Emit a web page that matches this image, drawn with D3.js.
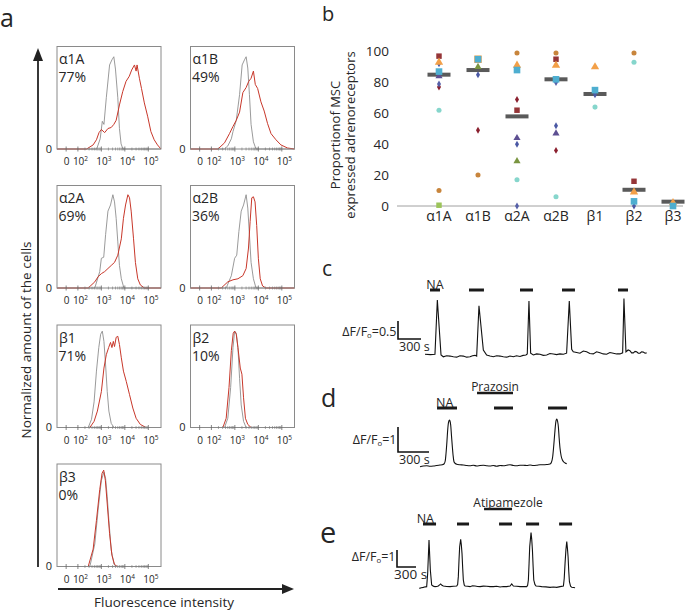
<!DOCTYPE html>
<html><head><meta charset="utf-8">
<script src="https://cdn.jsdelivr.net/npm/d3@7"></script>
<style>
body{margin:0;background:#fff}
svg{display:block}
text{font-family:"Open Sans",sans-serif;fill:#262626}
</style>
</head><body>
<svg id="fig" width="685" height="611"></svg>
<script>
// ---------------- DATA ----------------
// Panel a: flow cytometry histograms, [log10 intensity, normalized count]
const histLabels = ["α1A","α1B","α2A","α2B","β1","β2","β3"];
const histPercents = ["77%","49%","69%","36%","71%","10%","0%"];
const histTickValues = [1.5, 2, 3, 4, 5];
const histTickLabels = [["0",""],["10","2"],["10","3"],["10","4"],["10","5"]];

const grayA1A = [[2.80,0],[2.95,0.1],[3.04,0.27],[3.11,0.24],[3.21,0.5],[3.35,0.82],[3.45,0.87],[3.53,0.9],[3.60,0.78],[3.70,0.5],[3.77,0.2],[3.84,0.05],[3.92,0]];
const redA1A = [[2.37,0],[2.65,0.04],[2.79,0.09],[2.90,0.16],[3.00,0.19],[3.14,0.16],[3.28,0.2],[3.42,0.21],[3.53,0.24],[3.63,0.28],[3.77,0.43],[3.91,0.56],[4.05,0.66],[4.19,0.71],[4.29,0.77],[4.41,0.82],[4.48,0.76],[4.52,0.82],[4.62,0.69],[4.71,0.59],[4.83,0.45],[4.97,0.32],[5.11,0.17],[5.25,0.09],[5.39,0.04],[5.50,0.01]];
const grayA1B = [[2.55,0],[2.70,0.03],[2.85,0.1],[2.92,0.17],[3.06,0.28],[3.20,0.53],[3.31,0.82],[3.41,0.87],[3.48,0.9],[3.55,0.79],[3.62,0.53],[3.69,0.24],[3.79,0.07],[3.90,0]];
const redA1B = [[2.28,0],[2.56,0.06],[2.77,0.15],[2.92,0.22],[3.06,0.28],[3.20,0.36],[3.34,0.55],[3.48,0.6],[3.59,0.66],[3.69,0.69],[3.79,0.76],[3.87,0.63],[3.97,0.59],[4.11,0.46],[4.25,0.37],[4.39,0.25],[4.54,0.15],[4.75,0.09],[4.96,0.04],[5.24,0.01]];
const grayA2A = [[2.72,0],[2.93,0.16],[3.0,0.29],[3.10,0.3],[3.18,0.52],[3.28,0.75],[3.39,0.81],[3.49,0.91],[3.56,0.84],[3.63,0.68],[3.70,0.45],[3.77,0.22],[3.85,0.09],[3.96,0]];
const redA2A = [[2.44,0],[2.72,0.06],[2.86,0.11],[3.0,0.14],[3.14,0.16],[3.28,0.19],[3.42,0.22],[3.56,0.25],[3.70,0.32],[3.85,0.48],[3.94,0.68],[4.03,0.81],[4.13,0.91],[4.20,0.88],[4.27,0.75],[4.37,0.48],[4.45,0.25],[4.55,0.09],[4.66,0.03],[4.83,0]];
const grayA2B = [[2.63,0],[2.85,0.12],[2.99,0.29],[3.08,0.32],[3.17,0.55],[3.27,0.75],[3.37,0.81],[3.48,0.91],[3.55,0.78],[3.62,0.52],[3.69,0.25],[3.79,0.09],[3.90,0]];
const redA2B = [[2.42,0],[2.70,0.06],[2.92,0.08],[3.13,0.09],[3.34,0.12],[3.48,0.19],[3.58,0.39],[3.65,0.65],[3.72,0.88],[3.79,0.89],[3.86,0.84],[3.93,0.61],[4.0,0.29],[4.08,0.09],[4.18,0.02],[4.32,0]];
const grayB1 = [[2.44,0],[2.58,0.08],[2.69,0.25],[2.79,0.55],[2.89,0.78],[2.97,0.91],[3.04,0.94],[3.11,0.84],[3.18,0.61],[3.25,0.35],[3.32,0.16],[3.42,0.04],[3.54,0]];
const redB1 = [[2.51,0],[2.69,0.06],[2.83,0.16],[3.0,0.35],[3.11,0.58],[3.21,0.71],[3.31,0.78],[3.39,0.83],[3.45,0.78],[3.51,0.84],[3.56,0.79],[3.63,0.88],[3.70,0.89],[3.77,0.81],[3.85,0.68],[3.94,0.55],[4.06,0.45],[4.20,0.32],[4.34,0.19],[4.48,0.09],[4.66,0.03],[4.90,0]];
const grayB2 = [[2.56,0],[2.70,0.09],[2.82,0.39],[2.92,0.78],[2.99,0.94],[3.06,0.92],[3.13,0.78],[3.20,0.48],[3.27,0.22],[3.37,0.06],[3.48,0]];
const redB2 = [[2.49,0],[2.63,0.09],[2.75,0.39],[2.85,0.75],[2.93,0.92],[2.99,0.94],[3.06,0.91],[3.13,0.78],[3.23,0.58],[3.30,0.52],[3.37,0.29],[3.45,0.09],[3.55,0.03],[3.69,0]];
const grayB3 = [[2.51,0],[2.72,0.22],[2.86,0.55],[3.0,0.84],[3.11,0.92],[3.18,0.86],[3.25,0.68],[3.32,0.45],[3.42,0.16],[3.54,0.02],[3.63,0]];
const redB3 = [[2.44,0],[2.65,0.17],[2.79,0.45],[2.93,0.75],[3.03,0.91],[3.10,0.94],[3.17,0.84],[3.25,0.61],[3.35,0.32],[3.45,0.11],[3.56,0.02],[3.68,0]];

// Panel b: proportion of MSC expressing each receptor (one array per donor marker)
const receptorCats = ["α1A","α1B","α2A","α2B","β1","β2","β3"];
const bTicks = [0,20,40,60,80,100];
const medians = [85, 88, 58, 82, 72.5, 10.5, 2.8];
const sOrangeCircle  = [10, 20, 99, 99, null, 99, null];
const sCyanCircle    = [62, null, 17, 6, 64, 93, null];
const sGreenSquare   = [0.5, null, null, null, null, null, null];
const sGreenTriangle = [null, 90, 29, null, null, null, null];
const sRedDiamond    = [77, 49, 69, 36, null, null, null];
const sBlueDiamond2  = [79, null, 0, 80, null, null, null];
const sPurpleTri     = [84, null, 44, 47, null, null, null];
const sBlueDiamond   = [92, 85, 40, 52, 72, 0, null];
const sRedSquare     = [97, null, 62, 95, null, 16, null];
const sOrangeTri     = [93, null, 91, 91, 90, 9, 2];
const sOrangeSquare  = [null, 95, null, null, null, null, null];
const sLightBlueSq   = [87, 95, 88, 82, 75, 3, 0];

// Panels c-e: calcium traces [time s, ΔF/F0] and stimulus bars [start s, end s]
const traceC = [[0,0.02],[70,0.01],[130,0.02],[161,1.53],[209,0],[239,-0.05],[282,-0.02],[326,-0.03],[370,-0.05],[413,-0.06],[456,-0.02],[500,-0.03],[543,-0.06],[587,-0.05],[620,-0.02],[652,-0.01],[674,-0.03],[704,1.37],[761,0.14],[804,0],[848,-0.03],[891,-0.05],[935,-0.02],[978,-0.03],[1022,-0.05],[1065,-0.06],[1108,-0.03],[1152,-0.05],[1195,-0.02],[1239,-0.04],[1280,-0.01],[1317,0],[1334,0.03],[1356,1.5],[1378,0.05],[1413,0],[1456,0.03],[1500,0.02],[1543,-0.01],[1587,0],[1630,0.04],[1674,0.03],[1717,0.01],[1760,0.03],[1805,0.02],[1847,0.05],[1882,1.5],[1913,0.16],[1934,0.09],[1978,0.07],[2021,0.05],[2065,0.11],[2108,0.09],[2150,0.04],[2195,0.03],[2238,0.09],[2282,0.06],[2325,0.03],[2369,0.02],[2412,0.07],[2456,0.05],[2500,0.03],[2543,0.03],[2578,0.06],[2595,1.57],[2621,0.09],[2650,0.14],[2673,0.12],[2695,0.06],[2717,0.06],[2740,0.1],[2760,0.09],[2782,0.05],[2804,0.05],[2825,0.09],[2847,0.08],[2870,0.05],[2891,0.06]];
const stimC = [[65,196],[574,769],[1239,1409],[1787,1956],[2517,2648]];
const traceD = [[0,-0.03],[32,0],[65,0.01],[97,-0.01],[129,0],[160,0.02],[194,0.04],[215,0.05],[232,0.08],[244,0.2],[252,0.51],[261,1.0],[268,1.44],[276,1.75],[284,1.84],[290,1.8],[297,1.64],[305,1.2],[313,0.77],[321,0.4],[329,0.17],[342,0.1],[355,0.07],[387,0.05],[419,0.04],[452,0.02],[484,0.01],[516,0.03],[549,0],[581,0.02],[613,0.03],[646,0.01],[678,0],[710,0.02],[742,-0.01],[775,0.02],[807,0.01],[839,0.03],[871,0.05],[904,0.02],[936,0.01],[968,0.03],[1000,0.03],[1033,0.02],[1065,0.04],[1097,0.02],[1129,0.03],[1162,0.05],[1194,0.05],[1226,0.06],[1258,0.08],[1272,0.15],[1284,0.37],[1294,0.8],[1304,1.31],[1314,1.75],[1323,1.88],[1331,1.8],[1339,1.57],[1347,1.1],[1355,0.71],[1366,0.4],[1378,0.24],[1391,0.16],[1404,0.12],[1420,0.09]];
const stimD = [[165,358],[716,900],[1239,1423]];
const prazosinBar = [552,900];
const traceE = [[5,-0.08],[37,-0.04],[68,-0.02],[100,0.01],[121,0.02],[137,0.8],[158,2.76],[179,1.0],[200,0.12],[226,0.05],[253,0.02],[280,0.03],[305,0.06],[325,0.12],[342,0.18],[362,0.1],[384,0.06],[437,0.03],[490,0.02],[543,0.04],[595,0.06],[610,0.15],[621,0.61],[632,1.6],[642,2.37],[658,2.8],[668,2.5],[679,1.98],[690,1.1],[700,0.41],[714,0.12],[727,0.06],[766,0.04],[806,0.02],[845,0.07],[885,0.06],[925,0.03],[964,0.02],[1017,0.05],[1069,0.04],[1121,0.02],[1174,0.02],[1227,0.04],[1280,0],[1332,0.03],[1385,0.02],[1438,0.06],[1464,0.18],[1490,0.06],[1543,0.04],[1596,0.02],[1650,0.03],[1701,0.02],[1715,0.1],[1727,0.41],[1738,1.4],[1748,2.37],[1769,3.2],[1780,2.8],[1791,2.18],[1802,1.2],[1812,0.41],[1830,0.15],[1848,0.06],[1893,0.04],[1938,0.02],[2003,0.01],[2069,-0.02],[2122,0],[2175,-0.02],[2228,0.02],[2280,0.06],[2293,0.5],[2306,1.39],[2320,2.2],[2333,2.67],[2343,2.3],[2354,1.78],[2365,0.9],[2375,0.31],[2393,0.05],[2412,-0.02],[2438,-0.03],[2464,-0.04]];
const stimE = [[63,269],[600,790],[1264,1469],[1690,1896],[2212,2417]];
const atipamezoleBar = [1027,1469];

// ---------------- DRAWING ----------------
const svg = d3.select("#fig");
const INK = "#262626";

// ===== Panel a =====
svg.append("text").attr("x",0).attr("y",27).attr("font-size",25).text("a");

const hW = 104, hH = 102.5;
const hx = d3.scaleLinear().domain([1.11, 5.54]).range([0, hW]);
const hy = d3.scaleLinear().domain([0, 1]).range([hH, 0]);
const boxLeft = [57, 190.5];
const rowTop = [46.5, 185.5, 325, 464];
const grays = [grayA1A, grayA1B, grayA2A, grayA2B, grayB1, grayB2, grayB3];
const reds  = [redA1A, redA1B, redA2A, redA2B, redB1, redB2, redB3];
const hLine = d3.line().x(d => hx(d[0])).y(d => hy(d[1]));
const full = c => [[hx.domain()[0],0], ...c, [hx.domain()[1],0]];

histLabels.forEach((lab, i) => {
  const g = svg.append("g")
    .attr("transform", `translate(${boxLeft[i % 2]},${rowTop[Math.floor(i / 2)]})`);
  g.append("path").attr("d", hLine(full(grays[i])))
    .attr("fill","none").attr("stroke","#8e8e8e").attr("stroke-width",0.9);
  g.append("path").attr("d", hLine(full(reds[i])))
    .attr("fill","none").attr("stroke","#c8372a").attr("stroke-width",1);
  g.append("rect").attr("width",hW).attr("height",hH)
    .attr("fill","none").attr("stroke","#8a8a8a").attr("stroke-width",1);
  // minor ticks
  const minor = [];
  for (let e = 2; e <= 4; e++) for (let k = 2; k <= 9; k++) minor.push(e + Math.log10(k));
  g.selectAll("line.mn").data(minor).join("line")
    .attr("x1", d => hx(d)).attr("x2", d => hx(d))
    .attr("y1", hH - 1.5).attr("y2", hH + 1.5)
    .attr("stroke","#777").attr("stroke-width",0.6);
  g.selectAll("line.mj").data(histTickValues).join("line")
    .attr("x1", d => hx(d)).attr("x2", d => hx(d))
    .attr("y1", hH - 2.5).attr("y2", hH + 2.5)
    .attr("stroke","#666").attr("stroke-width",0.8);
  const ax = g.append("g").attr("transform", `translate(0,${hH})`)
    .call(d3.axisBottom(hx).tickValues(histTickValues).tickSize(0).tickPadding(9));
  ax.select(".domain").remove();
  ax.selectAll("text").each(function(d, j) {
    const t = d3.select(this).text("").attr("font-size",10)
      .attr("font-family","'Open Sans',sans-serif").attr("fill",INK)
      .attr("text-anchor", j === 0 ? "middle" : "start")
      .attr("dx", j === 0 ? 0 : -5.5);
    t.append("tspan").text(histTickLabels[j][0]);
    if (histTickLabels[j][1]) t.append("tspan").attr("font-size",6.5).attr("dy",-4).text(histTickLabels[j][1]);
  });
  g.append("text").attr("x",-5).attr("y",hy(0)).attr("dy","0.35em")
    .attr("text-anchor","end").attr("font-size",11).text("0");
  g.append("text").attr("x",2).attr("y",17.5).attr("font-size",14).text(lab);
  g.append("text").attr("x",1.5).attr("y",35.5).attr("font-size",14).text(histPercents[i]);
});

// axes arrows
svg.append("line").attr("x1",38).attr("x2",38).attr("y1",567).attr("y2",58)
  .attr("stroke","#222").attr("stroke-width",1.8);
svg.append("path").attr("d","M33,61 L38,48 L43,61 Z").attr("fill","#222");
svg.append("line").attr("x1",58).attr("x2",284).attr("y1",589).attr("y2",589)
  .attr("stroke","#222").attr("stroke-width",1.8);
svg.append("path").attr("d","M282,584 L294,589 L282,594 Z").attr("fill","#222");
svg.append("text").attr("transform","translate(31,340) rotate(-90)")
  .attr("text-anchor","middle").attr("font-size",13.5).text("Normalized amount of the cells");
svg.append("text").attr("x",164).attr("y",607).attr("text-anchor","middle")
  .attr("font-size",13.5).text("Fluorescence intensity");

// ===== Panel b =====
svg.append("text").attr("x",322).attr("y",21).attr("font-size",20).text("b");
const yB = d3.scaleLinear().domain([0,100]).range([206,51.5]);
const xB = d3.scaleBand().domain(receptorCats).range([419.5,692.5]);

const yAx = svg.append("g").attr("transform","translate(397,0)")
  .call(d3.axisLeft(yB).tickValues(bTicks).tickSize(0).tickPadding(8));
yAx.select(".domain").remove();
yAx.selectAll("text").attr("font-size",13.5).attr("font-family","'Open Sans',sans-serif").attr("fill",INK);

svg.append("line").attr("x1",397).attr("x2",683).attr("y1",yB(0)).attr("y2",yB(0))
  .attr("stroke","#a0a0a0").attr("stroke-width",1);
const xAx = svg.append("g").attr("transform",`translate(0,${yB(0)})`)
  .call(d3.axisBottom(xB).tickSize(0).tickPadding(5));
xAx.select(".domain").remove();
xAx.selectAll("text").attr("font-size",14).attr("font-family","'Open Sans',sans-serif").attr("fill",INK);

svg.append("text").attr("transform","translate(340,135) rotate(-90)")
  .attr("text-anchor","middle").attr("font-size",13).text("Proportionof MSC");
svg.append("text").attr("transform","translate(355,135) rotate(-90)")
  .attr("text-anchor","middle").attr("font-size",13).text("expressed adrenoreceptors");

const bSeries = [
  {v: sOrangeCircle,  sym: d3.symbolCircle,   size: 20, color: "#c8853c"},
  {v: sCyanCircle,    sym: d3.symbolCircle,   size: 20, color: "#86d6cc"},
  {v: sGreenSquare,   sym: d3.symbolSquare,   size: 30, color: "#9cc45a"},
  {v: sGreenTriangle, sym: d3.symbolTriangle, size: 22, color: "#7a9540"},
  {v: sRedDiamond,    sym: d3.symbolDiamond,  size: 14, color: "#8a1f2e"},
  {v: sBlueDiamond2,  sym: d3.symbolDiamond,  size: 14, color: "#5660a8"},
  {v: sPurpleTri,     sym: d3.symbolTriangle, size: 22, color: "#5d4f92"},
  {v: sBlueDiamond,   sym: d3.symbolDiamond,  size: 14, color: "#4a58a4"},
  {v: sRedSquare,     sym: d3.symbolSquare,   size: 30, color: "#953538"},
  {v: sOrangeTri,     sym: d3.symbolTriangle, size: 30, color: "#f3a048"},
  {v: sOrangeSquare,  sym: d3.symbolSquare,   size: 56, color: "#f3a048"},
  {v: sLightBlueSq,   sym: d3.symbolSquare,   size: 44, color: "#4eaed0"}
];
// median bars
svg.selectAll("rect.med").data(medians).join("rect")
  .attr("x", (d,i) => xB(receptorCats[i]) + xB.bandwidth()/2 - 11.5)
  .attr("y", d => yB(d) - 2).attr("width", 23).attr("height", 4)
  .attr("fill", "#5a5a5a");
bSeries.forEach(s => {
  const pts = s.v.map((v,i) => ({v, c: receptorCats[i]})).filter(p => p.v !== null);
  svg.append("g").selectAll("path").data(pts).join("path")
    .attr("transform", p => `translate(${xB(p.c) + xB.bandwidth()/2},${yB(p.v)})`)
    .attr("d", d3.symbol().type(s.sym).size(s.size))
    .attr("fill", s.color);
});

// ===== Panels c-e =====
function deltaLabel(x, y, val, fs) {
  const t = svg.append("text").attr("x", x).attr("y", y).attr("text-anchor","end").attr("font-size", fs);
  t.append("tspan").text("ΔF/F");
  t.append("tspan").attr("font-size", fs*0.62).attr("dy", 2).text("o");
  t.append("tspan").attr("dy", -2).text("=" + val);
}
function tracePanel(o) {
  const xs = d3.scaleLinear().domain([0, 300]).range([o.x0, o.x0 + o.px300]);
  const ys = d3.scaleLinear().domain([0, 1]).range([o.base, o.base - o.px1]);
  svg.append("text").attr("x", o.lx).attr("y", o.ly).attr("font-size", o.lfs).text(o.letter);
  svg.append("path").datum(o.trace)
    .attr("d", d3.line().x(d => xs(d[0])).y(d => ys(d[1])).curve(o.curve))
    .attr("fill","none").attr("stroke","#111").attr("stroke-width",1.1);
  svg.selectAll(null).data(o.stim).join("line")
    .attr("x1", d => xs(d[0])).attr("x2", d => xs(d[1]))
    .attr("y1", o.barY).attr("y2", o.barY)
    .attr("stroke","#1a1a1a").attr("stroke-width",3);
  // NA label
  const na = o.stim[0];
  svg.append("text").attr("x", xs(o.naAnchor === "start" ? na[0] : o.naAnchor === "end" ? na[1] : (na[0]+na[1])/2) + o.naDx)
    .attr("y", o.barY - 1.5).attr("text-anchor", o.naAnchor).attr("font-size", 12.5).text("NA");
  if (o.drug) {
    svg.append("line").attr("x1", xs(o.drug[0])).attr("x2", xs(o.drug[1]))
      .attr("y1", o.drugY).attr("y2", o.drugY).attr("stroke","#1a1a1a").attr("stroke-width",2.5);
    svg.append("text").attr("x", xs((o.drug[0]+o.drug[1])/2) + o.drugDx).attr("y", o.drugY - 2.5)
      .attr("text-anchor","middle").attr("font-size", 12).text(o.drugName);
  }
  // scale bar
  const sbW = xs(300) - xs(0), sbH = ys(0) - ys(o.sbVal);
  svg.append("path")
    .attr("d", `M${o.sbX},${o.sbY - sbH} L${o.sbX},${o.sbY} L${o.sbX + sbW},${o.sbY}`)
    .attr("fill","none").attr("stroke","#111").attr("stroke-width",1.6);
  deltaLabel(o.sbX - 1.5, o.dlY, o.sbVal, o.dfs);
  svg.append("text").attr("x", o.sbX + o.sDx).attr("y", o.sY).attr("font-size", o.sfs).text("300 s");
}

tracePanel({letter:"c", lx:322, ly:276, lfs:21, trace:traceC, stim:stimC, curve:d3.curveLinear,
  x0:425, px300:23, base:355, px1:36, barY:290, naAnchor:"middle", naDx:0,
  sbX:398, sbY:339, sbVal:0.5, dlY:336, dfs:12.5, sDx:1, sY:351, sfs:12.5});
tracePanel({letter:"d", lx:321, ly:407, lfs:25, trace:traceD, stim:stimD, curve:d3.curveMonotoneX,
  x0:420, px300:31, base:466, px1:25, barY:408, naAnchor:"start", naDx:-1,
  drug:prazosinBar, drugY:393, drugName:"Prazosin", drugDx:0,
  sbX:398, sbY:452, sbVal:1, dlY:444, dfs:12.5, sDx:1, sY:464, sfs:12.5});
tracePanel({letter:"e", lx:320, ly:543, lfs:29, trace:traceE, stim:stimE, curve:d3.curveLinear,
  x0:419, px300:19, base:587, px1:17, barY:524, naAnchor:"end", naDx:-2,
  drug:atipamezoleBar, drugY:509, drugName:"Atipamezole", drugDx:10,
  sbX:397, sbY:567, sbVal:1, dlY:561, dfs:12.5, sDx:-3, sY:579, sfs:13.5});
</script>
</body></html>
